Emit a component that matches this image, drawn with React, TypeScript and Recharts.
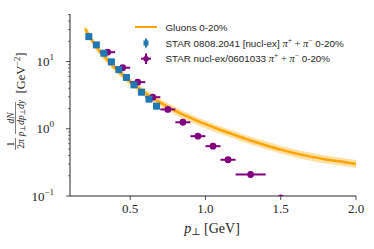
import React from 'react';
import { ComposedChart, Area, Line, Scatter, ErrorBar, XAxis, YAxis, Legend } from 'recharts';

// Gluons 0-20% curve with its uncertainty band
const curveX = [0.2, 0.25, 0.3, 0.35, 0.4, 0.45, 0.5, 0.55, 0.6, 0.65, 0.7, 0.75, 0.8, 0.9, 1.0, 1.1, 1.2, 1.3, 1.4, 1.5, 1.6, 1.7, 1.8, 1.9, 2.0];
const curveY = [31, 20, 14, 10.5, 8, 6.3, 5.0, 4.1, 3.4, 2.85, 2.45, 2.12, 1.85, 1.45, 1.17, 0.96, 0.8, 0.67, 0.57, 0.49, 0.43, 0.385, 0.35, 0.325, 0.3];
const curveLo = [27, 17.5, 12.2, 9.1, 7.0, 5.5, 4.35, 3.6, 2.95, 2.48, 2.13, 1.85, 1.61, 1.26, 1.02, 0.84, 0.7, 0.585, 0.5, 0.43, 0.375, 0.335, 0.305, 0.283, 0.262];
const curveHi = [35, 22.8, 16, 12, 9.1, 7.2, 5.7, 4.7, 3.9, 3.25, 2.8, 2.42, 2.1, 1.65, 1.33, 1.09, 0.91, 0.76, 0.65, 0.56, 0.49, 0.44, 0.4, 0.37, 0.342];

// STAR 0808.2041
const blueX = [0.225, 0.275, 0.325, 0.375, 0.425, 0.475, 0.525, 0.575, 0.625, 0.675];
const blueY = [23.5, 17.7, 13.3, 9.9, 7.6, 5.8, 4.5, 3.5, 2.76, 2.17];
const blueYErr = [1.2, 0.9, 0.7, 0.5, 0.4, 0.3, 0.23, 0.18, 0.14, 0.11];

// STAR nucl-ex/0601033 (last point sits just below the frame, its bars are hidden)
const purpleX = [0.35, 0.45, 0.55, 0.65, 0.75, 0.85, 0.95, 1.05, 1.15, 1.3, 1.5];
const purpleY = [13.8, 8.1, 4.94, 2.95, 1.94, 1.25, 0.776, 0.551, 0.346, 0.209, 0.094];
const purpleXErr = [0.05, 0.05, 0.05, 0.05, 0.05, 0.05, 0.05, 0.05, 0.05, 0.1, 0];
const purpleYErr = [1.2, 0.7, 0.42, 0.25, 0.16, 0.1, 0.065, 0.045, 0.03, 0.018, 0];

const xTicks = [0.5, 1.0, 1.5, 2.0];
const yMajor = [0.1, 1, 10];
const yMinor = [0.2, 0.3, 0.4, 0.5, 0.6, 0.7, 0.8, 0.9, 2, 3, 4, 5, 6, 7, 8, 9, 20, 30, 40, 50];
const yExp: Record<number, string> = { 0.1: '\u22121', 1: '0', 10: '1' };

const curveData = curveX.map((x, i) => ({ x, y: curveY[i], band: [curveLo[i], curveHi[i]] }));
const blueData = blueX.map((x, i) => ({ x, y: blueY[i], yerr: blueYErr[i] }));
const purpleData = purpleX.map((x, i) => ({ x, y: purpleY[i], xerr: purpleXErr[i], yerr: purpleYErr[i] }));

const INK = '#262626';
const SERIF = '"Liberation Serif", "DejaVu Serif", serif';
const SANS = '"Liberation Sans", "DejaVu Sans", sans-serif';
const ORANGE = '#FFA500';
const BLUE = '#1f77b4';
const PURPLE = '#800080';

const XTick = ({ x, y, payload }: any) => (
  <g>
    <line x1={x} x2={x} y1={y} y2={y + 4} stroke={INK} strokeWidth={0.8} />
    <text x={x} y={y + 17} textAnchor="middle" fontFamily={SERIF} fontSize={13} fill={INK}>
      {payload.value.toFixed(1)}
    </text>
  </g>
);

const YTick = ({ x, y, payload }: any) => {
  const v = payload.value;
  if (!yMajor.includes(v)) {
    return <line x1={x - 2} x2={x} y1={y} y2={y} stroke={INK} strokeWidth={0.6} />;
  }
  return (
    <g>
      <line x1={x - 4} x2={x} y1={y} y2={y} stroke={INK} strokeWidth={0.8} />
      <text x={x - 16} y={y + 4.5} textAnchor="end" fontFamily={SERIF} fontSize={13} fill={INK}>
        10<tspan fontSize={9} dy={-6}>{yExp[v]}</tspan>
      </text>
    </g>
  );
};

const YLabel = () => (
  <g transform="translate(0,100) rotate(-90)" fill={INK} fontFamily={SERIF}>
    <text x={-44} y={14} fontSize={9.5} textAnchor="middle">1</text>
    <line x1={-50} x2={-38} y1={15.5} y2={15.5} stroke={INK} strokeWidth={0.6} />
    <text x={-44} y={23.5} fontSize={9.5} textAnchor="middle">2<tspan fontStyle="italic">π</tspan></text>
    <text x={-18} y={14} fontSize={9.5} textAnchor="middle" fontStyle="italic">dN</text>
    <line x1={-34} x2={-2} y1={15.5} y2={15.5} stroke={INK} strokeWidth={0.6} />
    <text x={-18} y={23.5} fontSize={9.5} textAnchor="middle" fontStyle="italic">
      p<tspan fontSize={7} fontStyle="normal" dy={1.5}>⊥</tspan>
      <tspan dy={-1.5}>dp</tspan>
      <tspan fontSize={7} fontStyle="normal" dy={1.5}>⊥</tspan>
      <tspan dy={-1.5}>dy</tspan>
    </text>
    <text x={27} y={25} fontSize={12.5} textAnchor="middle">
      [GeV<tspan fontSize={8.5} dy={-5}>−2</tspan><tspan dy={5}>]</tspan>
    </text>
  </g>
);

const XLabel = () => (
  <text x={212} y={233} textAnchor="middle" fontFamily={SERIF} fontSize={14} fill={INK}>
    <tspan fontStyle="italic">p</tspan>
    <tspan fontSize={10} dy={2}>⊥</tspan>
    <tspan dy={-2}> [GeV]</tspan>
  </text>
);

const PiPart = () => (
  <>
    <tspan fontFamily={SERIF} fontStyle="italic" fontSize={10.5}>π</tspan>
    <tspan fontFamily={SERIF} fontSize={7.5} dy={-4}>+</tspan>
    <tspan fontFamily={SERIF} fontSize={10.5} dy={4}> + </tspan>
    <tspan fontFamily={SERIF} fontStyle="italic" fontSize={10.5}>π</tspan>
    <tspan fontFamily={SERIF} fontSize={7.5} dy={-4}>−</tspan>
    <tspan dy={4}> 0-20%</tspan>
  </>
);

const LegendBox = () => (
  <svg width={230} height={50} style={{ overflow: 'visible' }}>
    <line x1={5} x2={27} y1={9} y2={9} stroke={ORANGE} strokeWidth={2} />
    <text x={35.5} y={12.5} fontFamily={SANS} fontSize={9.8} fill={INK}>Gluons 0-20%</text>
    <line x1={16} x2={16} y1={20.5} y2={29.5} stroke={BLUE} strokeWidth={2} />
    <rect x={13.5} y={22.5} width={5} height={5} fill={BLUE} />
    <text x={35.5} y={28.5} fontFamily={SANS} fontSize={9.8} fill={INK}>
      STAR 0808.2041 [nucl-ex] <PiPart />
    </text>
    <line x1={11} x2={21} y1={40.7} y2={40.7} stroke={PURPLE} strokeWidth={2} />
    <line x1={16} x2={16} y1={35.5} y2={46} stroke={PURPLE} strokeWidth={2} />
    <circle cx={16} cy={40.7} r={2.8} fill={PURPLE} />
    <text x={35.5} y={44.2} fontFamily={SANS} fontSize={9.8} fill={INK}>
      STAR nucl-ex/0601033 <PiPart />
    </text>
  </svg>
);

const Square = (p: any) => <rect x={p.cx - 3.5} y={p.cy - 3.5} width={7} height={7} fill={BLUE} />;
const Dot = (p: any) => <circle cx={p.cx} cy={p.cy} r={3.4} fill={PURPLE} />;

export default function App() {
  return (
    <div style={{ position: 'absolute', left: 0, top: 0, background: '#fff' }}>
      <ComposedChart width={374} height={249} margin={{ top: 14, right: 18, left: 0, bottom: 0 }}>
        <XAxis
          xAxisId="b"
          dataKey="x"
          type="number"
          domain={[0.1, 2.0]}
          allowDataOverflow
          ticks={xTicks}
          tick={<XTick />}
          tickLine={false}
          tickSize={0}
          tickMargin={0}
          height={53}
          axisLine={{ stroke: INK, strokeWidth: 1 }}
          label={<XLabel />}
        />
        <XAxis xAxisId="t" orientation="top" type="number" domain={[0, 1]} tick={false} tickLine={false} height={0} axisLine={{ stroke: INK, strokeWidth: 1 }} />
        <YAxis
          yAxisId="l"
          scale="log"
          type="number"
          domain={[0.1, 51]}
          allowDataOverflow
          ticks={[...yMajor, ...yMinor]}
          tick={<YTick />}
          tickLine={false}
          tickSize={0}
          tickMargin={0}
          width={70}
          interval={0}
          axisLine={{ stroke: INK, strokeWidth: 1 }}
          label={<YLabel />}
        />
        <YAxis yAxisId="r" orientation="right" type="number" domain={[0, 1]} tick={false} tickLine={false} width={0} axisLine={{ stroke: INK, strokeWidth: 1 }} />
        <Area xAxisId="b" yAxisId="l" data={curveData} dataKey="band" type="monotone" stroke="none" fill={ORANGE} fillOpacity={0.35} isAnimationActive={false} />
        <Line xAxisId="b" yAxisId="l" data={curveData} dataKey="y" type="monotone" stroke={ORANGE} strokeWidth={2.5} dot={false} isAnimationActive={false} />
        <Scatter xAxisId="b" yAxisId="l" data={purpleData} dataKey="y" shape={Dot} isAnimationActive={false}>
          <ErrorBar dataKey="xerr" direction="x" width={0} stroke={PURPLE} strokeWidth={2} />
          <ErrorBar dataKey="yerr" direction="y" width={0} stroke={PURPLE} strokeWidth={2} />
        </Scatter>
        <Scatter xAxisId="b" yAxisId="l" data={blueData} dataKey="y" shape={Square} isAnimationActive={false}>
          <ErrorBar dataKey="yerr" direction="y" width={0} stroke={BLUE} strokeWidth={2} />
        </Scatter>
        <Legend
          layout="horizontal"
          verticalAlign="middle"
          align="center"
          content={<LegendBox />}
          wrapperStyle={{ position: 'absolute', left: 130, top: 18, width: 230, height: 50 }}
        />
      </ComposedChart>
    </div>
  );
}
